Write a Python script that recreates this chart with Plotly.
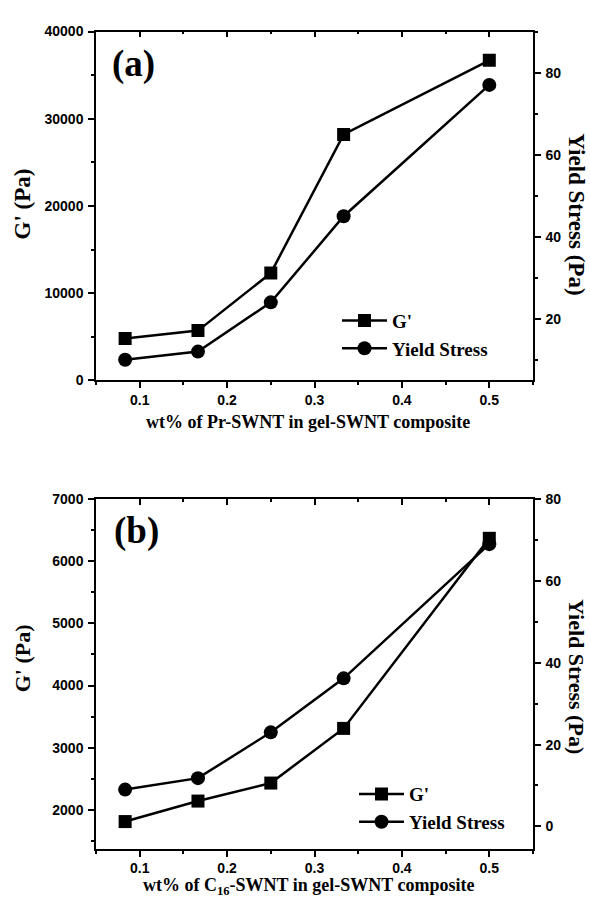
import plotly.graph_objects as go

# ---- data ----
wt = [1/12, 1/6, 1/4, 1/3, 1/2]
g_a = [4800, 5700, 12300, 28200, 36700]
ys_a = [10, 12, 24, 45, 77]
g_b = [1810, 2140, 2430, 3310, 6370]
ys_b = [9, 11.8, 23, 36.2, 69]

xtitle_a = "wt% of Pr-SWNT in gel-SWNT composite"
xtitle_b = "wt% of C<sub>16</sub>-SWNT in gel-SWNT composite"
ytitle_l = "G' (Pa)"
ytitle_r = "Yield Stress (Pa)"

W, H = 590, 907
def px(x):
    return x / W
def py(y):
    return 1 - y / H

SANS = "Liberation Sans, Arial, sans-serif"
SERIF = "Liberation Serif, Times New Roman, serif"
tickfont = dict(family=SANS, size=14, color="black", weight="bold")

fig = go.Figure()
line = dict(color="black", width=2.5)

# panel a
fig.add_trace(go.Scatter(x=wt, y=g_a, mode="lines+markers", name="G'",
                         line=line, marker=dict(symbol="square", size=13, color="black"),
                         xaxis="x", yaxis="y", legend="legend"))
fig.add_trace(go.Scatter(x=wt, y=ys_a, mode="lines+markers", name="Yield Stress",
                         line=line, marker=dict(symbol="circle", size=14, color="black"),
                         xaxis="x", yaxis="y2", legend="legend"))
fig.add_trace(go.Scatter(x=wt, y=g_a, mode="lines", opacity=0, showlegend=False,
                         hoverinfo="skip", xaxis="x3", yaxis="y"))
# panel b
fig.add_trace(go.Scatter(x=wt, y=g_b, mode="lines+markers", name="G'",
                         line=line, marker=dict(symbol="square", size=13, color="black"),
                         xaxis="x2", yaxis="y3", legend="legend2"))
fig.add_trace(go.Scatter(x=wt, y=ys_b, mode="lines+markers", name="Yield Stress",
                         line=line, marker=dict(symbol="circle", size=14, color="black"),
                         xaxis="x2", yaxis="y4", legend="legend2"))
fig.add_trace(go.Scatter(x=wt, y=g_b, mode="lines", opacity=0, showlegend=False,
                         hoverinfo="skip", xaxis="x4", yaxis="y3"))

dom_x = [px(96), px(533)]
dom_a = [py(379), py(24)]
dom_b = [py(856), py(500)]

def xax(anchor, top=False, overlay=None, standoff=None):
    d = dict(domain=dom_x, range=[0.05, 0.55], anchor=anchor, showgrid=False,
             zeroline=False, showline=True, linecolor="black", linewidth=1.5,
             ticks="inside" if top else "outside", ticklen=6, tickwidth=1.5, tickcolor="black",
             dtick=0.1, tick0=0.1, tickformat=".1f",
             minor=dict(dtick=0.05, tick0=0.05, ticklen=3, tickwidth=1.5, tickcolor="black",
                        ticks="inside" if top else "outside"),
             tickfont=tickfont, showticklabels=not top)
    if standoff is not None:
        d["ticklabelstandoff"] = standoff
    if top:
        d.update(side="top", overlaying=overlay)
    return d

def yax(anchor, rng, dtick, mdtick, right=False, overlay=None):
    d = dict(domain=None, range=rng, anchor=anchor, showgrid=False, zeroline=False,
             showline=True, linecolor="black", linewidth=1.5,
             ticks="outside", ticklen=6, tickwidth=1.5, tickcolor="black",
             dtick=dtick, tick0=0, tickformat="d",
             minor=dict(dtick=mdtick, tick0=0, ticklen=3, tickwidth=1.5, tickcolor="black",
                        ticks="outside"),
             tickfont=tickfont, ticklabelstandoff=2)
    if right:
        d.update(side="right", overlaying=overlay)
    return d

ya = yax("x", [0, 40000], 10000, 5000); ya["domain"] = dom_a
ya2 = yax("x", [5, 90], 20, 10, right=True, overlay="y"); ya2["domain"] = dom_a
yb = yax("x2", [1370, 7000], 1000, 500); yb["domain"] = dom_b
yb2 = yax("x2", [-5.5, 80], 20, 10, right=True, overlay="y3"); yb2["domain"] = dom_b

legfont = dict(family=SERIF, size=19, color="black", weight="bold")
fig.update_layout(
    width=W, height=H, margin=dict(l=0, r=0, t=0, b=0),
    paper_bgcolor="white", plot_bgcolor="white",
    xaxis=xax("y"), xaxis2=xax("y3", standoff=0),
    xaxis3=xax("y", top=True, overlay="x"), xaxis4=xax("y3", top=True, overlay="x2"),
    yaxis=ya, yaxis2=ya2, yaxis3=yb, yaxis4=yb2,
    legend=dict(x=px(337), y=py(299), xanchor="left", yanchor="top", font=legfont,
                itemwidth=45, bgcolor="rgba(0,0,0,0)", tracegroupgap=0),
    legend2=dict(x=px(354), y=py(781), xanchor="left", yanchor="top", font=legfont,
                 itemwidth=45, bgcolor="rgba(0,0,0,0)", tracegroupgap=0),
    showlegend=True,
)

ann = []
def add(x, y, text, size, angle=0):
    ann.append(dict(x=px(x), y=py(y), xref="paper", yref="paper", text=text,
                    textangle=angle, showarrow=False, xanchor="center", yanchor="middle",
                    font=dict(family=SERIF, size=size, color="black", weight="bold")))

# panel a
add(22, 200, ytitle_l, 23, -90)
add(577, 210, ytitle_r, 23, 90)
add(308, 421, xtitle_a, 18)
add(133, 57, "(a)", 37)
# panel b
add(22, 662, ytitle_l, 22, -90)
add(577, 680, ytitle_r, 22, 90)
add(308, 894, xtitle_b, 18)
add(136, 532, "(b)", 37)
fig.update_layout(annotations=ann)

fig.write_html("out.html")
